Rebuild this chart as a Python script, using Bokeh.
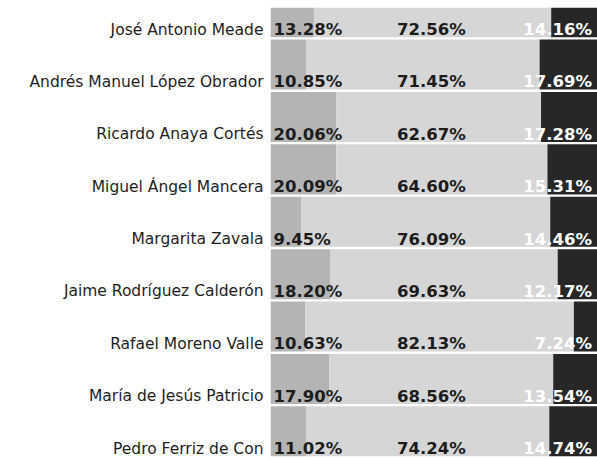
from bokeh.plotting import figure
from bokeh.models import Range1d, FixedTicker, ColumnDataSource
from bokeh.core.properties import value
from bokeh.embed import file_html
from bokeh.resources import INLINE

candidates = [
    "José Antonio Meade",
    "Andrés Manuel López Obrador",
    "Ricardo Anaya Cortés",
    "Miguel Ángel Mancera",
    "Margarita Zavala",
    "Jaime Rodríguez Calderón",
    "Rafael Moreno Valle",
    "María de Jesús Patricio",
    "Pedro Ferriz de Con",
]
seg1 = [13.28, 10.85, 20.06, 20.09, 9.45, 18.20, 10.63, 17.90, 11.02]
seg2 = [72.56, 71.45, 62.67, 64.60, 76.09, 69.63, 82.13, 68.56, 74.24]
seg3 = [14.16, 17.69, 17.28, 15.31, 14.46, 12.17, 7.24, 13.54, 14.74]

n = len(candidates)
label_y = [n - 1 - i for i in range(n)]          # label row position
bar_y = [y + 0.33 for y in label_y]              # bar centre a bit above label

c1, c2, c3 = "#b4b4b4", "#d6d6d6", "#272727"

p = figure(width=597, height=459, output_backend="svg", toolbar_location=None,
           x_range=Range1d(0, 100), y_range=Range1d(-0.208, 8.42),
           x_axis_location=None, min_border_left=270, min_border_right=0,
           min_border_top=7, min_border_bottom=0)
p.outline_line_color = None
p.grid.visible = False
p.background_fill_color = "white"

left2 = seg1
left3 = [a + b for a, b in zip(seg1, seg2)]
right3 = [a + b + c for a, b, c in zip(seg1, seg2, seg3)]
h = 0.955
p.hbar(y=bar_y, left=[0] * n, right=seg1, height=h, fill_color=c1, line_color=None)
p.hbar(y=bar_y, left=left2, right=left3, height=h, fill_color=c2, line_color=None)
p.hbar(y=bar_y, left=left3, right=right3, height=h, fill_color=c3, line_color=None)

fmt = lambda v: f"{v:.2f}%"
font = value("DejaVu Sans")
src = ColumnDataSource(dict(y=label_y,
                            t1=[fmt(v) for v in seg1],
                            t2=[fmt(v) for v in seg2],
                            t3=[fmt(v) for v in seg3]))
common = dict(y="y", source=src, text_font=font, text_font_style="bold",
              text_font_size="16.5px", text_baseline="middle")
p.text(x=0.9, text="t1", text_color="#1c1c1c", text_align="left", **common)
p.text(x=38.7, text="t2", text_color="#1c1c1c", text_align="left", **common)
p.text(x=98.3, text="t3", text_color="#ffffff", text_align="right", **common)

ya = p.yaxis[0]
ya.ticker = FixedTicker(ticks=label_y)
ya.major_label_overrides = {y: name for y, name in zip(label_y, candidates)}
ya.axis_line_color = None
ya.major_tick_line_color = None
ya.minor_tick_line_color = None
ya.major_label_standoff = 1
ya.major_label_text_font = "DejaVu Sans"
ya.major_label_text_font_size = "15.5px"
ya.major_label_text_color = "#1e1e1e"

open("out.html", "w").write(file_html(p, INLINE))
